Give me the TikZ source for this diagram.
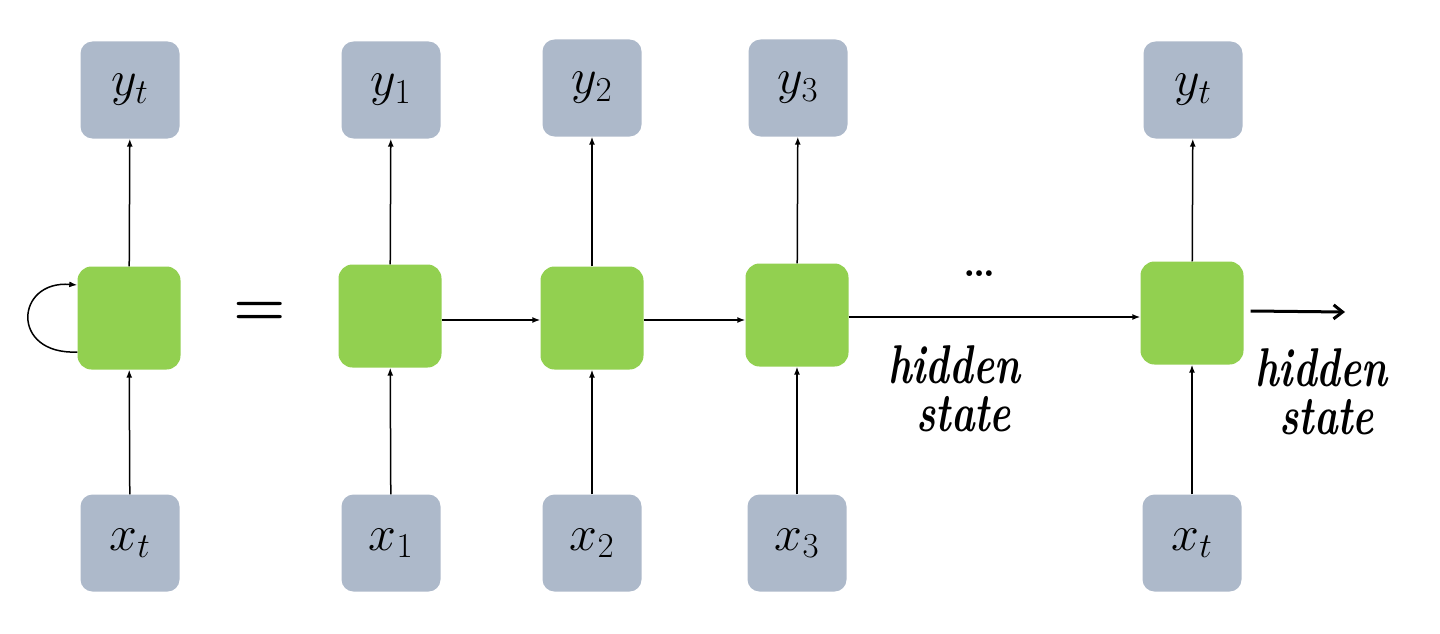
\RequirePackage{fix-cm}
\documentclass[tikz,border=0pt]{standalone}
\usetikzlibrary{arrows.meta}
\definecolor{boxgray}{HTML}{ADB9CA}
\definecolor{cellgreen}{HTML}{92D050}
\newcommand{\tallword}[1]{\scalebox{0.95}[1.3]{#1}}
\tikzset{
  iobox/.style={fill=boxgray, rounded corners=12pt, minimum width=99pt, minimum height=97pt, inner sep=0pt, font=\fontsize{50}{60}\selectfont},
  cell/.style={fill=cellgreen, rounded corners=14pt, minimum width=103pt, minimum height=103pt, inner sep=0pt},
  conn/.style={line width=1.5pt, -{Latex[length=8pt,width=6pt]}},
  hand/.style={font=\fontsize{42}{48}\selectfont\bfseries\itshape, align=left, inner sep=0pt},
}
\begin{document}
\begin{tikzpicture}[x=1pt,y=-1pt]
\useasboundingbox (0,0) rectangle (1440,634);
% top outputs
\node[iobox] (y0) at (130,90) {\raisebox{-6pt}{$y_t$}};
\node[iobox] (y1) at (391,90) {\raisebox{-6pt}{$y_1$}};
\node[iobox] (y2) at (592,88) {\raisebox{-6pt}{$y_2$}};
\node[iobox] (y3) at (798,88) {\raisebox{-6pt}{$y_3$}};
\node[iobox] (y4) at (1193,90) {\raisebox{-6pt}{$y_t$}};
% cells
\node[cell] (g0) at (129,318) {};
\node[cell] (g1) at (390,316) {};
\node[cell] (g2) at (592,318) {};
\node[cell] (g3) at (797,315) {};
\node[cell] (g4) at (1192,313) {};
% inputs
\node[iobox] (x0) at (130,543) {\raisebox{-6pt}{$x_t$}};
\node[iobox] (x1) at (391,543) {\raisebox{-6pt}{$x_1$}};
\node[iobox] (x2) at (592,543) {\raisebox{-6pt}{$x_2$}};
\node[iobox] (x3) at (797,543) {\raisebox{-6pt}{$x_3$}};
\node[iobox] (x4) at (1192,543) {\raisebox{-6pt}{$x_t$}};
% vertical connectors
\foreach \i in {0,...,4}{
  \draw[conn] (x\i) -- (g\i);
  \draw[conn] (g\i) -- (y\i);
}
% horizontal connectors
\draw[conn] ([yshift=-4pt]g1.east) -- ([yshift=-4pt]g1.east -| g2.west);
\draw[conn] ([yshift=-2pt]g2.east) -- ([yshift=-2pt]g2.east -| g3.west);
\draw[conn] ([yshift=-2pt]g3.east) -- ([yshift=-2pt]g3.east -| g4.west);
% self loop
\coordinate (ls) at ([yshift=-34pt]g0.west);
\coordinate (le) at ([yshift=33pt]g0.west);
\draw[conn] (ls) .. controls (10,355) and (15,280) .. (le);
% equals
\node[font=\fontsize{60}{60}\selectfont\bfseries] (eq) at (260,314) {=};
% dots
\node[font=\fontsize{40}{40}\selectfont\bfseries] (dots) at (980,274) {\dots};
% hidden state labels
\node[hand, anchor=north west] (h1) at (888,345) {\tallword{hidden}\\\hspace*{28pt}\tallword{state}};
\node[hand, anchor=north west] (h2) at (1255,348) {\tallword{hidden}\\\hspace*{24pt}\tallword{state}};
\coordinate (ha) at (1345,312);
\draw[line width=3pt, -{Straight Barb[length=9pt,width=14pt]}] ([xshift=7pt,yshift=2pt]g4.east) -- (ha);
\end{tikzpicture}
\end{document}
